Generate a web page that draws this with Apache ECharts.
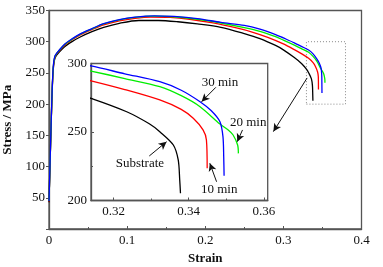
<!DOCTYPE html>
<html>
<head>
<meta charset="utf-8">
<script src="https://cdn.jsdelivr.net/npm/echarts@6/dist/echarts.min.js"></script>
<style>
  html, body { margin: 0; padding: 0; background: #fff; }
  #chart { width: 383px; height: 267px; }
</style>
</head>
<body>
<div id="chart"></div>
<script>
// strain / stress curves
const substrate = [[0, 43], [0.001, 88], [0.002, 133], [0.003, 178], [0.004, 218], [0.005, 247], [0.006, 263], [0.0075, 273], [0.0095, 278], [0.012, 282],
  [0.02, 292], [0.03, 300.5], [0.04, 307.5], [0.055, 316], [0.07, 323], [0.09, 329.5], [0.115, 334], [0.14, 334], [0.165, 332], [0.19, 328.5],
  [0.22, 323], [0.25, 313], [0.27, 305], [0.29, 294], [0.30, 287], [0.314, 274.6], [0.3235, 264.8], [0.3295, 256], [0.3323, 250.2],
  [0.3359, 240.5], [0.3372, 229.6], [0.3376, 215], [0.3378, 205.3]]
const min10 = [[0, 44], [0.001, 90], [0.002, 135], [0.003, 180], [0.004, 220], [0.005, 249], [0.006, 265], [0.0075, 275], [0.0095, 280], [0.012, 284],
  [0.02, 294.5], [0.03, 303.5], [0.04, 311], [0.055, 319.5], [0.07, 327], [0.09, 333.5], [0.11, 337.5], [0.13, 339.5], [0.155, 339], [0.18, 336],
  [0.21, 330], [0.24, 322], [0.26, 315.5], [0.28, 307], [0.30, 296.5], [0.314, 287.4], [0.323, 281], [0.3323, 273.4], [0.338, 266.5],
  [0.3412, 260], [0.3438, 251.5], [0.3447, 244.2], [0.3449, 223.5]]
const min20 = [[0, 45], [0.001, 90], [0.002, 135], [0.003, 180], [0.004, 220], [0.005, 250], [0.006, 266], [0.0075, 276], [0.0095, 280.5], [0.012, 284.5],
  [0.02, 295.5], [0.03, 304.5], [0.04, 312], [0.055, 320.5], [0.07, 328.5], [0.09, 335], [0.11, 339], [0.135, 341], [0.16, 340], [0.19, 336],
  [0.22, 330], [0.25, 322.5], [0.27, 316.5], [0.29, 308], [0.30, 302.5], [0.314, 294.5], [0.323, 289], [0.3323, 283.1], [0.338, 276.5],
  [0.343, 268.5], [0.3483, 255.8], [0.3505, 251.5], [0.3518, 247.8], [0.353, 240.5], [0.3532, 234.4]]
const min30 = [[0, 45], [0.001, 91], [0.002, 136], [0.003, 181], [0.004, 221], [0.005, 251], [0.006, 267], [0.0075, 277], [0.0095, 281], [0.012, 285],
  [0.02, 296], [0.03, 305], [0.04, 312.5], [0.055, 321], [0.07, 329], [0.09, 335.5], [0.11, 339.5], [0.135, 341.5], [0.16, 340.5], [0.19, 337],
  [0.22, 331], [0.25, 326], [0.27, 320], [0.29, 311.5], [0.30, 306], [0.314, 298.2], [0.323, 292.5], [0.3323, 286.7], [0.338, 280.5],
  [0.343, 272.1], [0.346, 265.5], [0.3483, 257.5], [0.3491, 246.6], [0.3493, 232], [0.3494, 218]]

const xTicks = [0, 0.1, 0.2, 0.3, 0.4]
const yTicks = [50, 100, 150, 200, 250, 300, 350]
const insetXTicks = [0.32, 0.34, 0.36]
const insetYTicks = [200, 250, 300]

const FONT = "'Liberation Serif', 'Times New Roman', serif"
const AX = '#555'

let chart = echarts.init(document.getElementById('chart'))

const txt = { fontFamily: FONT, fontSize: 13, color: '#111' }

function curve (name, data, color, idx, extra) {
  return Object.assign({
    name: name,
    type: 'line',
    data: data,
    xAxisIndex: idx,
    yAxisIndex: idx,
    showSymbol: false,
    smooth: 0.3,
    clip: true,
    lineStyle: { color: color, width: 1.3 },
    z: 3
  }, extra || {})
}

function arrow (from, to) {
  return [{ coord: from }, { coord: to }]
}

function note (text, at) {
  return { name: text, coord: at }
}

const arrowStyle = {
  silent: true,
  symbol: ['none', 'arrow'],
  symbolSize: [6, 8],
  label: { show: false },
  lineStyle: { color: '#111', width: 1, type: 'solid' },
  animation: false
}

const noteStyle = {
  silent: true,
  symbol: 'rect',
  symbolSize: 1,
  itemStyle: { color: 'rgba(0,0,0,0)' },
  label: Object.assign({ show: true, position: 'inside', formatter: '{b}' }, txt),
  animation: false
}

let option = {
  animation: false,
  backgroundColor: '#fff',
  grid: [
    { left: 49, top: 10.5, right: 21.5, bottom: 38, outerBoundsMode: 'none', containLabel: false, show: true, borderColor: AX, borderWidth: 1.3, backgroundColor: '#fff' },
    { left: 91, top: 63.5, width: 176.7, height: 137, outerBoundsMode: 'none', containLabel: false, show: true, borderColor: AX, borderWidth: 1.3, backgroundColor: '#fff', z: 5 }
  ],
  xAxis: [
    {
      gridIndex: 0,
      type: 'value',
      min: 0,
      max: 0.4,
      interval: 0.1,
      name: 'Strain',
      nameLocation: 'middle',
      nameGap: 18,
      nameTextStyle: { fontFamily: FONT, fontSize: 13, fontWeight: 'bold', color: '#111' },
      axisLine: { lineStyle: { color: AX, width: 1.3 } },
      axisTick: { inside: true, length: 3, lineStyle: { color: AX } },
      minorTick: { show: true, splitNumber: 2, length: 2, lineStyle: { color: AX } },
      splitLine: { show: false },
      axisLabel: Object.assign({ margin: 5, formatter: v => xTicks.some(t => Math.abs(t - v) < 1e-6) ? String(+v.toFixed(1)) : '' }, txt)
    },
    {
      gridIndex: 1,
      type: 'value',
      min: 0.314,
      max: 0.361,
      splitNumber: 3,
      axisLine: { lineStyle: { color: AX, width: 1.3 } },
      axisTick: { inside: true, length: 3, lineStyle: { color: AX } },
      minorTick: { show: true, splitNumber: 2, length: 2, lineStyle: { color: AX } },
      splitLine: { show: false },
      axisLabel: Object.assign({
        margin: 5,
        showMinLabel: false,
        showMaxLabel: false,
        formatter: v => insetXTicks.some(t => Math.abs(t - v) < 1e-6) ? v.toFixed(2) : ''
      }, txt),
      z: 6
    }
  ],
  yAxis: [
    {
      gridIndex: 0,
      type: 'value',
      min: 0,
      max: 350,
      interval: 50,
      name: 'Stress / MPa',
      nameLocation: 'middle',
      nameGap: 27,
      nameTextStyle: { fontFamily: FONT, fontSize: 13, fontWeight: 'bold', color: '#111' },
      axisLine: { lineStyle: { color: AX, width: 1.3 } },
      axisTick: { inside: false, length: 3, lineStyle: { color: AX } },
      splitLine: { show: false },
      axisLabel: Object.assign({ margin: 4, formatter: v => yTicks.includes(v) ? String(v) : '' }, txt)
    },
    {
      gridIndex: 1,
      type: 'value',
      min: 200,
      max: 300,
      interval: 50,
      axisLine: { lineStyle: { color: AX, width: 1.3 } },
      axisTick: { inside: true, length: 3, lineStyle: { color: AX } },
      minorTick: { show: true, splitNumber: 2, length: 2, lineStyle: { color: AX } },
      splitLine: { show: false },
      axisLabel: Object.assign({ margin: 4, formatter: v => insetYTicks.includes(v) ? String(v) : '' }, txt),
      z: 6
    }
  ],
  series: [
    curve('Substrate', substrate, '#000000', 0, {
      markArea: {
        silent: true,
        itemStyle: { color: 'rgba(0,0,0,0)', borderColor: '#888', borderWidth: 1, borderType: [1, 2] },
        data: [[{ coord: [0.3295, 200] }, { coord: [0.3795, 300] }]]
      },
      markLine: Object.assign({}, arrowStyle, { data: [arrow([0.3304, 242], [0.2872, 156])] })
    }),
    curve('10 min', min10, '#ff0000', 0),
    curve('20 min', min20, '#00ee00', 0),
    curve('30 min', min30, '#0000ff', 0),

    curve('Substrate', substrate, '#000000', 1, {
      z: 7,
      markLine: Object.assign({}, arrowStyle, { data: [arrow([0.3295, 232.5], [0.3341, 242.9])] }),
      markPoint: Object.assign({}, noteStyle, { data: [note('Substrate', [0.327, 226.6])] })
    }),
    curve('10 min', min10, '#ff0000', 1, {
      z: 7,
      markLine: Object.assign({}, arrowStyle, { data: [arrow([0.3474, 213.7], [0.3456, 227.2])] }),
      markPoint: Object.assign({}, noteStyle, { data: [note('10 min', [0.3481, 207.7])] })
    }),
    curve('20 min', min20, '#00ee00', 1, {
      z: 7,
      markLine: Object.assign({}, arrowStyle, { data: [arrow([0.3543, 251.5], [0.3529, 242.9])] }),
      markPoint: Object.assign({}, noteStyle, { data: [note('20 min', [0.3558, 256.8])] })
    }),
    curve('30 min', min30, '#0000ff', 1, {
      z: 7,
      markLine: Object.assign({}, arrowStyle, { data: [arrow([0.3472, 282.6], [0.3434, 272.1])] }),
      markPoint: Object.assign({}, noteStyle, { data: [note('30 min', [0.3483, 286.3])] })
    })
  ]
}

chart.setOption(option, true)
</script>
</body>
</html>
